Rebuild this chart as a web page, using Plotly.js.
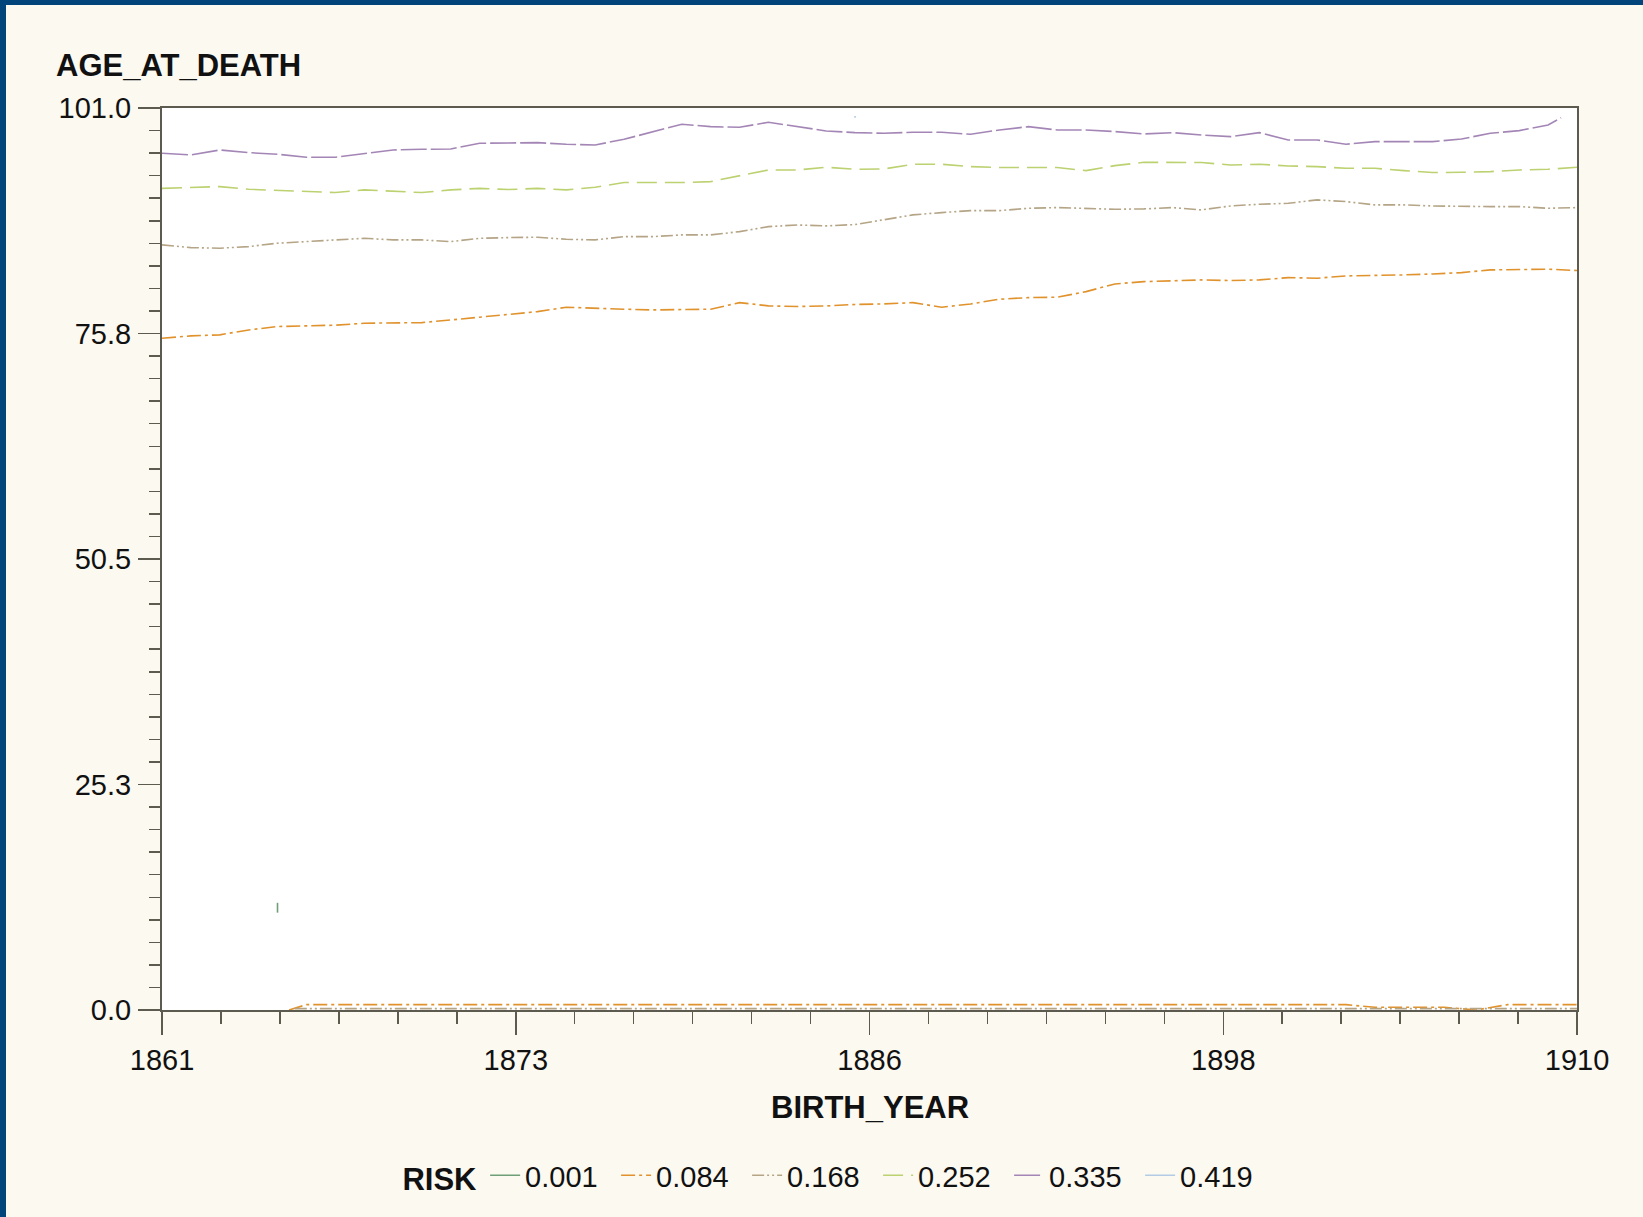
<!DOCTYPE html>
<html>
<head>
<meta charset="utf-8">
<script src="https://cdn.plot.ly/plotly-3.0.1.min.js"></script>
<style>
  html, body { margin: 0; padding: 0; width: 1643px; height: 1217px; overflow: hidden; background: #02457a; }
  #chart { position: absolute; left: 6px; top: 5px; width: 1637px; height: 1212px; }
</style>
</head>
<body>
<div id="chart"></div>
<script>
// ---- data ----
const years = [1861,1862,1863,1864,1865,1866,1867,1868,1869,1870,1871,1872,1873,1874,1875,1876,1877,1878,1879,1880,
  1881,1882,1883,1884,1885,1886,1887,1888,1889,1890,1891,1892,1893,1894,1895,1896,1897,1898,1899,1900,
  1901,1902,1903,1904,1905,1906,1907,1908,1909,1910];

const risk084 = [75.22,75.48,75.60,76.15,76.53,76.60,76.68,76.90,76.97,76.97,77.27,77.57,77.87,78.20,78.69,78.62,78.47,78.39,78.39,78.47,
  79.21,78.84,78.77,78.84,79.00,79.06,79.21,78.69,79.06,79.59,79.77,79.81,80.44,81.30,81.56,81.68,81.75,81.68,81.75,82.01,
  81.94,82.20,82.24,82.31,82.42,82.57,82.87,82.95,82.95,82.80];

const risk168 = [85.67,85.37,85.30,85.48,85.86,86.04,86.23,86.41,86.23,86.23,86.04,86.41,86.49,86.53,86.30,86.23,86.60,86.60,86.79,86.79,
  87.16,87.72,87.90,87.80,87.95,88.47,89.03,89.29,89.51,89.51,89.77,89.85,89.77,89.66,89.70,89.85,89.59,90.03,90.22,90.33,
  90.71,90.52,90.15,90.15,90.03,89.96,89.96,89.96,89.77,89.85];

const risk252 = [92.00,92.12,92.20,91.90,91.75,91.60,91.53,91.83,91.71,91.53,91.83,92.00,91.87,92.00,91.83,92.12,92.65,92.65,92.65,92.76,
  93.39,94.06,94.06,94.36,94.14,94.18,94.70,94.70,94.44,94.33,94.33,94.33,93.99,94.55,94.92,94.92,94.89,94.62,94.70,94.51,
  94.44,94.25,94.25,93.99,93.77,93.80,93.88,94.06,94.14,94.36];

const years335 = [1861,1862,1863,1864,1865,1866,1867,1868,1869,1870,1871,1872,1873,1874,1875,1876,1877,1878,1879,1880,
  1881,1882,1883,1884,1885,1886,1887,1888,1889,1890,1891,1892,1893,1894,1895,1896,1897,1898,1899,1900,
  1901,1902,1903,1904,1905,1906,1907,1908,1909,1909.45];
const risk335 = [95.93,95.74,96.30,96.00,95.82,95.48,95.48,95.86,96.30,96.38,96.41,97.05,97.12,97.12,96.94,96.86,97.50,98.36,99.18,98.91,
  98.84,99.40,98.91,98.43,98.24,98.17,98.28,98.28,98.06,98.54,98.91,98.54,98.54,98.36,98.09,98.24,97.98,97.80,98.24,97.42,
  97.42,96.94,97.24,97.24,97.24,97.53,98.17,98.47,99.10,99.90];

// low-lying segments near zero
const years084Low = [1865.4,1866,1902,1903,1905.4,1906.5,1907.6,1910];
const risk084Low  = [0.0,0.6,0.6,0.3,0.3,0.0,0.6,0.6];
const years168Low = [1865.6,1910];
const risk168Low  = [0.15,0.15];

// single short marks
const years001 = [1865,1865];
const risk001  = [10.9,12.0];
const years419 = [1885,1885];
const risk419  = [99.9,100.1];

const riskNames = ['0.001','0.084','0.168','0.252','0.335','0.419'];
const riskColors = ['#6f9f78','#e0922c','#b5a586','#bcd170','#a486b6','#b3cbe4'];
const riskDash = ['solid','14px,4px,3px,4px','12px,3px,2px,3px,2px,3px','20px,8px','26px,4px','solid'];

const xTickVals = [1861,1873.25,1885.5,1897.75,1910];
const xTickText = ['1861','1873','1886','1898','1910'];
const yTickVals = [0,25.25,50.5,75.75,101];
const yTickText = ['0.0','25.3','50.5','75.8','101.0'];

const axisColor = '#5d5b4f';
const FONT = '"Liberation Sans", Arial, sans-serif';

function line(i, x, y, showlegend) {
  return {
    type: 'scatter', mode: 'lines', x: x, y: y,
    name: riskNames[i], legendgroup: riskNames[i], showlegend: showlegend,
    line: { color: riskColors[i], width: 1.6, dash: riskDash[i] },
    hoverinfo: 'skip'
  };
}

const traces = [
  line(0, years001, risk001, true),
  line(1, years, risk084, true),
  line(2, years, risk168, true),
  line(3, years, risk252, true),
  line(4, years335, risk335, true),
  line(5, years419, risk419, true),
  line(1, years084Low, risk084Low, false),
  line(2, years168Low, risk168Low, false)
];

const layout = {
  width: 1637, height: 1212,
  paper_bgcolor: '#fcf9f1',
  plot_bgcolor: '#ffffff',
  margin: { l: 156.4, r: 66, t: 103, b: 206.5, pad: 0 },
  font: { family: FONT, size: 29, color: '#111111' },
  showlegend: true,
  xaxis: {
    range: [1861, 1910], autorange: false, automargin: false,
    showgrid: false, zeroline: false,
    showline: true, linecolor: axisColor, linewidth: 2, mirror: true,
    ticks: 'outside', ticklen: 23, tickwidth: 1.5, tickcolor: axisColor,
    tickmode: 'array', tickvals: xTickVals, ticktext: xTickText,
    tickfont: { family: FONT, size: 29, color: '#111111' },
    minor: { tickmode: 'linear', tick0: 1861, dtick: 12.25 / 6, ticks: 'outside', ticklen: 12, tickwidth: 1.5, tickcolor: axisColor, showgrid: false }
  },
  yaxis: {
    range: [0, 101], autorange: false, automargin: false,
    showgrid: false, zeroline: false,
    showline: true, linecolor: axisColor, linewidth: 2, mirror: true,
    ticks: 'outside', ticklen: 22, tickwidth: 1.5, tickcolor: axisColor,
    tickmode: 'array', tickvals: yTickVals, ticktext: yTickText,
    tickfont: { family: FONT, size: 29, color: '#111111' },
    ticklabelstandoff: 1,
    minor: { tickmode: 'linear', tick0: 0, dtick: 2.525, ticks: 'outside', ticklen: 11, tickwidth: 1.5, tickcolor: axisColor, showgrid: false }
  },
  legend: {
    orientation: 'h', xref: 'paper', yref: 'paper',
    x: 0.1685, xanchor: 'left', y: -0.1834, yanchor: 'middle',
    bgcolor: 'rgba(0,0,0,0)', borderwidth: 0,
    font: { family: FONT, size: 29, color: '#111111' },
    title: { text: 'RISK', side: 'left', font: { family: FONT, size: 31, color: '#111111', weight: 'bold' } },
    itemwidth: 30, entrywidth: 86, entrywidthmode: 'pixels',
    traceorder: 'normal'
  },
  annotations: [
    { text: 'AGE_AT_DEATH', xref: 'paper', yref: 'paper', x: -0.0766, y: 1.0466, xanchor: 'left', yanchor: 'middle',
      showarrow: false, font: { family: FONT, size: 31, color: '#111111', weight: 'bold' } },
    { text: 'BIRTH_YEAR', xref: 'paper', yref: 'paper', x: 0.5, y: -0.108, xanchor: 'center', yanchor: 'middle',
      showarrow: false, font: { family: FONT, size: 31, color: '#111111', weight: 'bold' } }
  ]
};

Plotly.newPlot('chart', traces, layout, { displayModeBar: false, staticPlot: true });
</script>
</body>
</html>
